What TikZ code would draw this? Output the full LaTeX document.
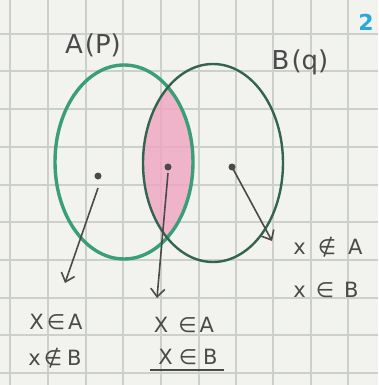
\documentclass[tikz,border=0pt]{standalone}
\usepackage{fontspec}
\setmainfont{DejaVu Sans}
\usetikzlibrary{arrows.meta,shapes.geometric}
\definecolor{paper}{HTML}{F2F3EE}
\definecolor{gridc}{HTML}{CCD0CC}
\definecolor{agreen}{HTML}{3A9E78}
\definecolor{bgreen}{HTML}{33654E}
\definecolor{pinkf}{HTML}{EFA3C2}
\definecolor{ink}{HTML}{4A4A4A}
\definecolor{blueink}{HTML}{2AA8D8}
\tikzset{
  setA/.style={ellipse,draw=agreen,line width=3.4pt,minimum width=138pt,minimum height=194pt,inner sep=0pt},
  setB/.style={ellipse,draw=bgreen,line width=2.4pt,minimum width=140pt,minimum height=198pt,inner sep=0pt},
  elem/.style={circle,fill=ink,inner sep=0pt,minimum size=7pt},
  pointer/.style={draw=ink,line width=1.6pt,-{Straight Barb[length=8pt,width=14pt,line width=1.6pt]}},
  hand/.style={text=ink,font=\fontsize{21}{21}\selectfont,inner sep=0pt},
  title/.style={text=ink,font=\fontsize{26}{26}\selectfont,inner sep=0pt}
}
\newcommand{\gap}[1]{\hspace{#1pt}}
\begin{document}
\begin{tikzpicture}[x=1pt,y=-1pt]
\fill[paper] (0,0) rectangle (378,385);
\useasboundingbox (0,0) rectangle (378,385);
% grid
\foreach \gx in {10,48,86,123,161,199,236,273,311,348}
  \draw[gridc,line width=1.1pt] (\gx,0) -- (\gx,385);
\foreach \gy in {34,71,109,147,185,222,260,298,335,373}
  \draw[gridc,line width=1.1pt] (0,\gy) -- (378,\gy);
% intersection fill
\begin{scope}
  \clip (124,162) ellipse [x radius=69, y radius=97];
  \fill[pinkf,opacity=0.8] (213,163) ellipse [x radius=70, y radius=99];
\end{scope}
% sets
\node[setA] (A) at (124,162) {};
\node[setB] (B) at (213,163) {};
% labels
\node[title] (la) at (93,45) {A\gap{2}(P)};
\node[title] (lb) at (300,62) {B\gap{2}(q)};
\node[text=blueink,font=\fontsize{22}{22}\selectfont\bfseries,inner sep=0pt] (num) at (366,22) {2};
% elements
\node[elem] (da) at (98,176) {};
\node[elem] (dm) at (168,167) {};
\node[elem] (db) at (232,167) {};
\coordinate (ea) at (65,283);
\coordinate (em) at (157,298);
\coordinate (eb) at (272,241);
\draw[pointer] ([yshift=-12pt]da.center) -- (ea);
\draw[pointer] ([yshift=-6pt]dm.center) -- (em);
\draw[pointer] (db.center) -- (eb);
% texts
\node[hand] (t1) at (328,247) {x\gap{12}∉\gap{12}A};
\node[hand] (t2) at (326,290) {x\gap{10}∈\gap{10}B};
\node[hand] (t3) at (56,322) {X\gap{3}∈\gap{3}A};
\node[hand] (t4) at (55,358) {x\gap{3}∉\gap{5}B};
\node[hand] (t5) at (184,325) {X\gap{10}∈\gap{3}A};
\node[hand] (t6) at (188,357) {X\gap{6}∈\gap{6}B};
\coordinate (u1) at ([xshift=-8pt,yshift=-5pt]t6.south west);
\coordinate (u2) at ([xshift=6pt,yshift=-5pt]t6.south east);
\draw[ink,line width=1.3pt] (u1) -- (u2);
\end{tikzpicture}
\end{document}
